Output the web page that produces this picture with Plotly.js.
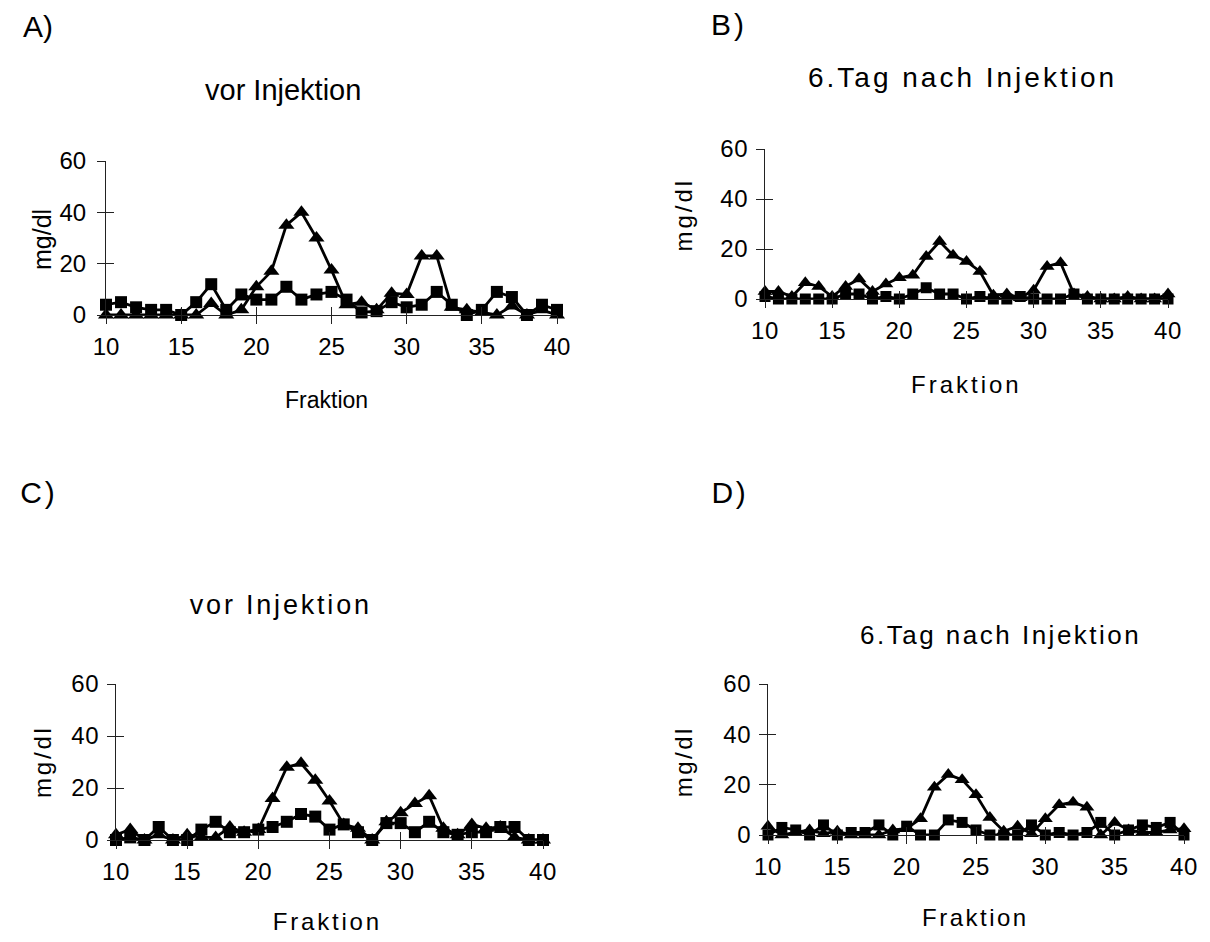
<!DOCTYPE html>
<html>
<head>
<meta charset="utf-8">
<script src="https://cdn.plot.ly/plotly-3.0.1.min.js"></script>
<style>
  html, body { margin: 0; padding: 0; background: #ffffff; }
  #page { position: relative; width: 1210px; height: 942px; overflow: hidden; }
  .panel { position: absolute; left: 0; top: 0; width: 1210px; height: 942px; }
  /* the later three diagrams are set with wider letter spacing */
  #panelB .annotation-text { letter-spacing: 3px; }
  #panelC .annotation-text { letter-spacing: 2.8px; }
  #panelD .annotation-text { letter-spacing: 2.5px; }
  #panelB .xtick text, #panelB .ytick text,
  #panelC .xtick text, #panelC .ytick text,
  #panelD .xtick text, #panelD .ytick text { letter-spacing: 0.6px; }
</style>
</head>
<body>
<div id="page">
  <div id="panelA" class="panel"></div>
  <div id="panelB" class="panel"></div>
  <div id="panelC" class="panel"></div>
  <div id="panelD" class="panel"></div>
</div>
<script>
// Fraktionsnummern (x-Achse)
const fraktion = [10, 11, 12, 13, 14, 15, 16, 17, 18, 19, 20,
                  21, 22, 23, 24, 25, 26, 27, 28, 29, 30,
                  31, 32, 33, 34, 35, 36, 37, 38, 39, 40];
const xTicks = [10, 15, 20, 25, 30, 35, 40];
const yTicks = [0, 20, 40, 60];

// A) vor Injektion, mg/dl je Fraktion
const aDreieck = [0, 0, 0, 0, 0, 0, 0, 4.5, 0, 2, 11,
                  17, 35, 40, 30, 17.5, 4, 5, 2, 8.5, 8,
                  23, 23, 3, 2, 1, 0, 3.5, 0, 2, 0];
const aQuadrat = [4, 5, 3, 2, 2, 0, 5, 12, 2, 8, 6,
                  6, 11, 6, 8, 9, 6, 1, 1.5, 5, 3,
                  4, 9, 4, 0, 2, 9, 7, 0, 4, 2];

// B) 6. Tag nach Injektion
const bDreieck = [3, 3, 1, 6.5, 5, 1, 5, 8, 3, 6, 8.5,
                  9.5, 17, 23, 17.5, 15, 11, 1.5, 2, 0.5, 3.5,
                  13, 14.5, 2, 1, 0, 0, 1, 0, 0, 2];
const bQuadrat = [1, 0, 0, 0, 0, 0, 2, 2, 0, 1, 0,
                  2, 4.5, 2, 2, 0, 1, 0, 0, 1, 0,
                  0, 0, 2, 0, 0, 0, 0, 0, 0, 0];

// C) vor Injektion
const cDreieck = [2, 4, 0, 2, 0, 2, 1, 1, 5, 3, 4,
                  16, 28, 29.5, 23, 15, 6, 4.5, 0, 7, 10.5,
                  14, 17, 4.5, 2, 6, 4.5, 5, 1, 0, 0];
const cQuadrat = [0, 1, 0, 5, 0, 0, 4, 7, 3, 3, 4,
                  5, 7, 10, 9, 4, 6, 3, 0, 6.5, 6.5,
                  3, 7, 3, 2, 3, 3, 5, 5, 0, 0];

// D) 6. Tag nach Injektion
const dDreieck = [3.5, 0, 1, 2, 0.5, 1.5, 0, 0, 0, 2, 2.5,
                  6.5, 19, 24, 22, 16, 7, 1.5, 3.5, 0.5, 6.5,
                  12, 13, 11, 0, 5, 2, 1, 1, 2, 2.5];
const dQuadrat = [0, 3, 2, 0, 4, 0, 1, 1, 4, 0, 3.5,
                  0, 0, 6, 5, 2, 0, 0, 0, 4, 0,
                  1, 0, 1, 5, 0, 2, 4, 3, 5, 0];

const W = 1210, H = 942;
const FONT = 'Liberation Sans, Arial, Helvetica, sans-serif';
const fx = p => p / W;          // page pixel -> paper fraction (x)
const fy = p => 1 - p / H;      // page pixel -> paper fraction (y)

function textAnn(text, x, y, size, extra) {
  return Object.assign({
    text: text, xref: 'paper', yref: 'paper', x: fx(x), y: fy(y),
    xanchor: 'center', yanchor: 'middle', showarrow: false,
    font: { family: FONT, size: size, color: '#000000' }
  }, extra || {});
}

function drawPanel(divId, p) {
  const line = { color: '#000000', width: 2.8 };
  const traces = [
    { x: fraktion, y: p.quadrat, type: 'scatter', mode: 'lines+markers',
      line: line, cliponaxis: false, showlegend: false,
      marker: { symbol: 'square', size: p.sq, color: '#000000' } },
    { x: fraktion, y: p.dreieck, type: 'scatter', mode: 'lines+markers',
      line: line, cliponaxis: false, showlegend: false,
      marker: { symbol: 'triangle-up', size: p.tri, color: '#000000' } },
    // empty trace so the inner tick marks (x2/y2) get their own subplot
    { x: [], y: [], xaxis: 'x2', yaxis: 'y2', type: 'scatter', mode: 'markers',
      showlegend: false, hoverinfo: 'skip' }
  ];
  const axisBase = { showgrid: false, zeroline: false, fixedrange: true };
  const tickFont = { family: FONT, size: p.tickSize, color: '#000000' };
  const layout = {
    width: W, height: H,
    margin: { l: 0, r: 0, t: 0, b: 0, pad: 0 },
    paper_bgcolor: 'rgba(0,0,0,0)', plot_bgcolor: 'rgba(0,0,0,0)',
    showlegend: false,
    xaxis: Object.assign({}, axisBase, {
      domain: [fx(p.x0), fx(p.x1)], range: [10, 40], anchor: 'y',
      tickmode: 'array', tickvals: xTicks, ticks: 'outside', ticklen: 8,
      tickwidth: 1, tickcolor: '#222222', showline: true, linecolor: '#222222',
      linewidth: 1, tickfont: tickFont, ticklabelstandoff: p.xStand
    }),
    xaxis2: Object.assign({}, axisBase, {
      overlaying: 'x', anchor: 'y2', range: [10, 40],
      tickmode: 'array', tickvals: xTicks, ticks: 'inside', ticklen: 8,
      tickwidth: 1, tickcolor: '#222222', showticklabels: false, showline: false
    }),
    yaxis: Object.assign({}, axisBase, {
      domain: [fy(p.yBot), fy(p.yTop)], range: [0, 60], anchor: 'x',
      tickmode: 'array', tickvals: yTicks, ticks: 'outside', ticklen: 8,
      tickwidth: 1, tickcolor: '#222222', showline: true, linecolor: '#222222',
      linewidth: 1, tickfont: tickFont, ticklabelstandoff: p.yStand
    }),
    yaxis2: Object.assign({}, axisBase, {
      overlaying: 'y', anchor: 'x2', range: [0, 60],
      tickmode: 'array', tickvals: yTicks, ticks: 'inside', ticklen: 8,
      tickwidth: 1, tickcolor: '#222222', showticklabels: false, showline: false
    }),
    annotations: [
      textAnn(p.label, p.labelX, p.labelY, p.labelSize, { xanchor: 'left' }),
      textAnn(p.title, p.titleX, p.titleY, p.titleSize),
      textAnn('mg/dl', p.yTitleX, p.yTitleY, p.yTitleSize, { textangle: -90 }),
      textAnn('Fraktion', p.xTitleX, p.xTitleY, p.xTitleSize)
    ]
  };
  Plotly.newPlot(divId, traces, layout, { staticPlot: true, displayModeBar: false });
}

drawPanel('panelA', {
  dreieck: aDreieck, quadrat: aQuadrat, sq: 12, tri: 14,
  x0: 106, x1: 557, yTop: 161, yBot: 315,
  tickSize: 24, xStand: 2, yStand: 6,
  label: 'A)', labelX: 21, labelY: 27, labelSize: 30,
  title: 'vor Injektion', titleX: 283, titleY: 90, titleSize: 29,
  yTitleX: 42, yTitleY: 240, yTitleSize: 25,
  xTitleX: 326, xTitleY: 400, xTitleSize: 23
});

drawPanel('panelB', {
  dreieck: bDreieck, quadrat: bQuadrat, sq: 11, tri: 13,
  x0: 765, x1: 1168, yTop: 149, yBot: 299,
  tickSize: 24, xStand: 2, yStand: 3,
  label: 'B)', labelX: 712, labelY: 25, labelSize: 30,
  title: '6.Tag nach Injektion', titleX: 962, titleY: 78, titleSize: 28,
  yTitleX: 683, yTitleY: 215, yTitleSize: 24,
  xTitleX: 966, xTitleY: 384, xTitleSize: 24
});

drawPanel('panelC', {
  dreieck: cDreieck, quadrat: cQuadrat, sq: 12, tri: 14,
  x0: 116, x1: 543, yTop: 684, yBot: 840,
  tickSize: 24, xStand: 2, yStand: 3,
  label: 'C)', labelX: 21, labelY: 492, labelSize: 30,
  title: 'vor Injektion', titleX: 281, titleY: 605, titleSize: 27,
  yTitleX: 42, yTitleY: 762, yTitleSize: 24,
  xTitleX: 328, xTitleY: 921, xTitleSize: 24
});

drawPanel('panelD', {
  dreieck: dDreieck, quadrat: dQuadrat, sq: 11, tri: 13,
  x0: 768, x1: 1184, yTop: 684, yBot: 835,
  tickSize: 24, xStand: 2, yStand: 3,
  label: 'D)', labelX: 712, labelY: 492, labelSize: 30,
  title: '6.Tag nach Injektion', titleX: 1000, titleY: 635, titleSize: 26,
  yTitleX: 683, yTitleY: 762, yTitleSize: 24,
  xTitleX: 975, xTitleY: 917, xTitleSize: 24
});
</script>
</body>
</html>
